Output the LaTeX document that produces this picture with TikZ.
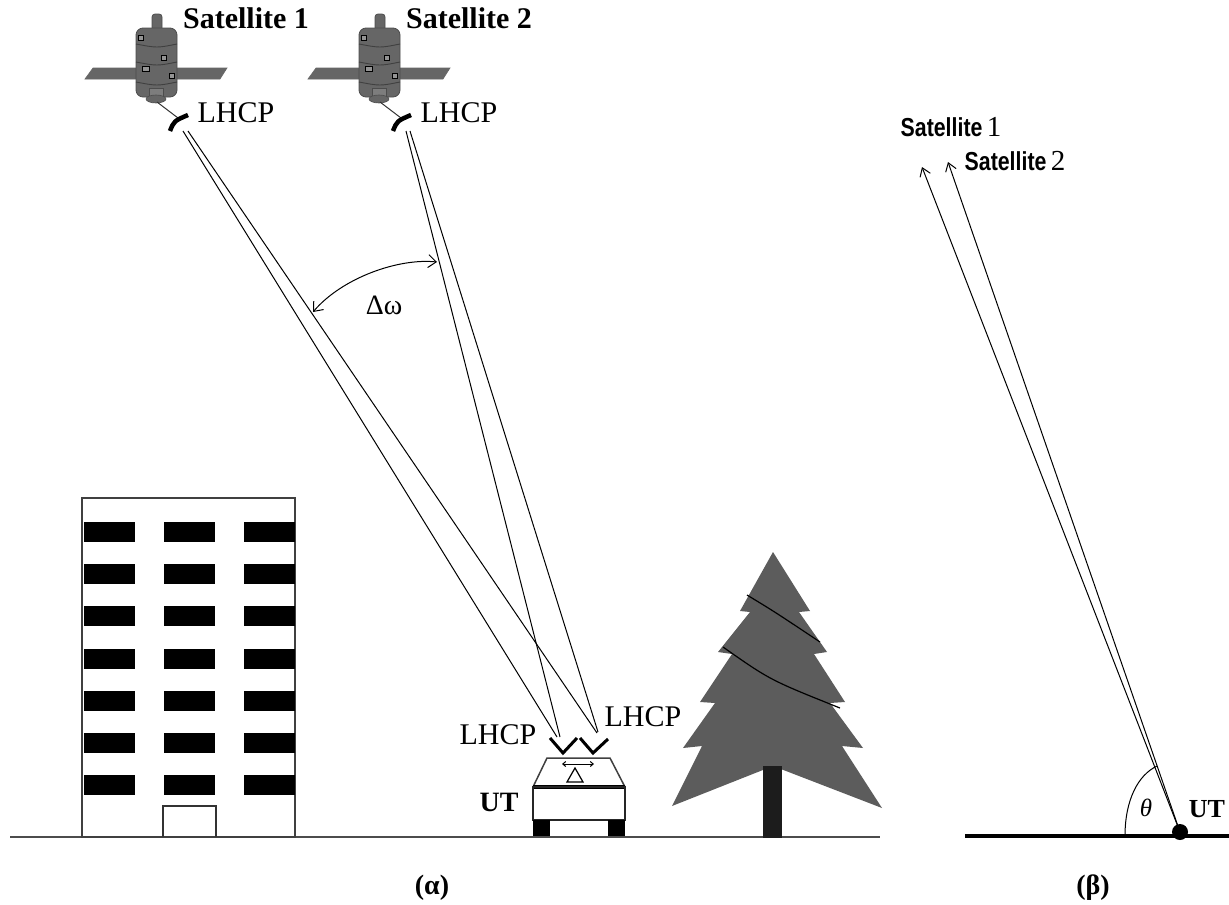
\documentclass[tikz,border=0pt]{standalone}
\usepackage{fontspec}
\setmainfont{Liberation Serif}
\newfontfamily\condsans[FakeStretch=0.82]{Liberation Sans}
\usetikzlibrary{arrows.meta}

\definecolor{satgray}{HTML}{666666}
\definecolor{treegray}{HTML}{5C5C5C}
\definecolor{trunkgray}{HTML}{1C1C1C}
\newcommand{\fsz}[1]{\fontsize{#1}{#1}\selectfont}

\tikzset{
  lbl/.style={inner sep=0pt, font=\fsz{30}},
  boldlbl/.style={inner sep=0pt, font=\fsz{30}\bfseries},
  beam/.style={line width=1pt},
  barb/.style={-{Straight Barb[length=8pt,width=11pt,line width=1pt]}},
  satellite/.pic={
    % solar panel behind the body
    \fill[satgray, draw=black!60, line width=0.6pt]
      (-64,68) -- (70,68) -- (63,79) -- (-72,79) -- cycle;
    % antenna mast
    \fill[satgray, draw=black!70, line width=0.8pt, rounded corners=3pt]
      (-5,14) rectangle (5,31);
    % cylindrical body
    \fill[satgray, draw=black!70, line width=0.8pt, rounded corners=7pt]
      (-21,28) rectangle (20,97);
    \draw[black!75, line width=0.9pt] (-21,44) .. controls (0,48) .. (20,44);
    \draw[black!75, line width=0.9pt] (-21,62) .. controls (0,66) .. (20,62);
    \draw[black!75, line width=0.9pt] (-21,82) .. controls (0,86) .. (20,82);
    % small fittings on the body
    \draw[black, line width=0.8pt, fill=satgray!70] (-19,35) rectangle (-14,40);
    \draw[black, line width=0.8pt, fill=satgray!70] (4,55) rectangle (9,60);
    \draw[black, line width=0.8pt, fill=satgray!70] (-15,66) rectangle (-8,71);
    \draw[black, line width=0.8pt, fill=satgray!70] (12,73) rectangle (17,78);
    % base and dish mount
    \fill[satgray!85, draw=black!70, line width=0.6pt] (-8,88) rectangle (6,96);
    \fill[satgray, draw=black!70, line width=0.6pt] (-1,99) ellipse [x radius=10, y radius=4];
    % feed arm and reflector
    \draw[black!80, line width=1pt] (0,102) -- (21,118);
    \draw[black, line width=4.5pt] (13,131) .. controls (17,121) .. (31,115);
  }
}

\begin{document}
\begin{tikzpicture}[x=1pt, y=-1pt]
\useasboundingbox (0,0) rectangle (1229,905);

% ---------------- (alpha) ----------------
% ground
\coordinate (g0) at (10,837);
\coordinate (g1) at (880,837);
\draw[black!70, line width=2.5pt] (g0) -- (g1);

% building
\draw[black!75, line width=1.4pt] (82,498) rectangle (295,837);
\foreach \r in {0,...,6} {
  \foreach \c in {84,164,244} {
    \fill[black] (\c,{522+42.2*\r}) rectangle ({\c+51},{542+42.2*\r});
  }
}
\draw[black!80, line width=1.2pt] (163,837) -- (163,806) -- (216,806) -- (216,837);

% satellites
\pic at (157,0) {satellite};
\pic at (380,0) {satellite};
\node[boldlbl] (sat1) at (246,18) {Satellite 1};
\node[boldlbl] (sat2) at (469,18) {Satellite 2};
\node[lbl] (lhcp1) at (236,113) {LHCP};
\node[lbl] (lhcp2) at (459,113) {LHCP};

% beam end points
\coordinate (s1a) at (183,131);
\coordinate (s1b) at (188,131);
\coordinate (s2a) at (406,131);
\coordinate (s2b) at (410,131);
\coordinate (r1a) at (557,737);
\coordinate (r1b) at (597,733);
\coordinate (r2a) at (560,737);
\coordinate (r2b) at (598,732);

\draw[beam] (s1a) -- (r1a);
\draw[beam] (s1b) -- (r1b);
\draw[beam] (s2a) -- (r2a);
\draw[beam] (s2b) -- (r2b);

% angular separation
\coordinate (dwr) at (437,262);
\coordinate (dwl) at (313,312);
\draw[line width=1pt, {Straight Barb[length=8pt,width=13pt,line width=1pt]}-{Straight Barb[length=8pt,width=13pt,line width=1pt]}]
  (dwr) .. controls (398,258) and (342,278) .. (dwl);
\node[lbl, font=\fsz{28}] (dw) at (384,305) {Δω};

% user terminal (car)
\draw[black!75, line width=1.5pt] (533,787) -- (547,758) -- (610,758) -- (625,787);
\draw[black, line width=3.5pt] (533,787) -- (625,787);
\draw[black!85, line width=1.2pt] (533,787) rectangle (625,820);
\fill[black] (533,820) rectangle (550,836);
\fill[black] (608,820) rectangle (625,836);
\draw[line width=1pt, {Straight Barb[length=3pt,width=5pt]}-{Straight Barb[length=3pt,width=5pt]}] (562,764) -- (594,764);
\draw[line width=1.2pt] (567,782) -- (583,782) -- (575,768) -- cycle;
\coordinate (ant1) at (563,753);
\coordinate (ant2) at (593,753);
\draw[line width=3pt] (550,738) -- (ant1) -- (577,738);
\draw[line width=3pt] (580,738) -- (ant2) -- (608,739);
\node[lbl] (lhcp3) at (498,735) {LHCP};
\node[lbl] (lhcp4) at (643,717) {LHCP};
\node[boldlbl, font=\fsz{28}\bfseries] (ut1) at (499,802) {UT};

% tree
\fill[treegray]
  (773,552) -- (810,611) -- (799,612) -- (827,652) -- (814,654) -- (845,702)
  -- (830,703) -- (863,748) -- (842,746) -- (882,808) -- (773,766) -- (672,806)
  -- (702,746) -- (683,748) -- (715,703) -- (700,702) -- (732,654) -- (718,652)
  -- (750,612) -- (740,611) -- cycle;
\draw[black, line width=1.2pt] (747,595) .. controls (775,612) .. (820,642);
\draw[black, line width=1.2pt] (723,647) .. controls (770,680) .. (840,708);
\fill[trunkgray] (763,766) rectangle (782,838);

\node[boldlbl, font=\fsz{28}\bfseries] (capa) at (432,888) {(α)};

% ---------------- (beta) ----------------
\coordinate (h0) at (965,836);
\coordinate (h1) at (1229,836);
\draw[black, line width=4pt] (h0) -- (h1);

\coordinate (ut) at (1180,832);
\coordinate (e1) at (922,167);
\coordinate (e2) at (948,162);
\draw[line width=1pt, barb] (ut) -- (e1);
\draw[line width=1pt, barb] (ut) -- (e2);
\fill[black] (ut) circle (8);

\coordinate (th0) at (1125,836);
\coordinate (th1) at (1157,766);
\draw[line width=1pt] (th0) .. controls (1125,800) and (1138,775) .. (th1);
\node[lbl, font=\fsz{25}\itshape] (theta) at (1146,808) {θ};
\node[boldlbl, font=\fsz{26}\bfseries] (ut2) at (1207,809) {UT};

\node[inner sep=0pt] (bsat1) at (951,127) {\fsz{26}\condsans\bfseries Satellite\,{\rmfamily\mdseries\fsz{29}1}};
\node[inner sep=0pt] (bsat2) at (1015,161) {\fsz{26}\condsans\bfseries Satellite\,{\rmfamily\mdseries\fsz{29}2}};

\node[boldlbl, font=\fsz{28}\bfseries] (capb) at (1093,888) {(β)};
\end{tikzpicture}
\end{document}
